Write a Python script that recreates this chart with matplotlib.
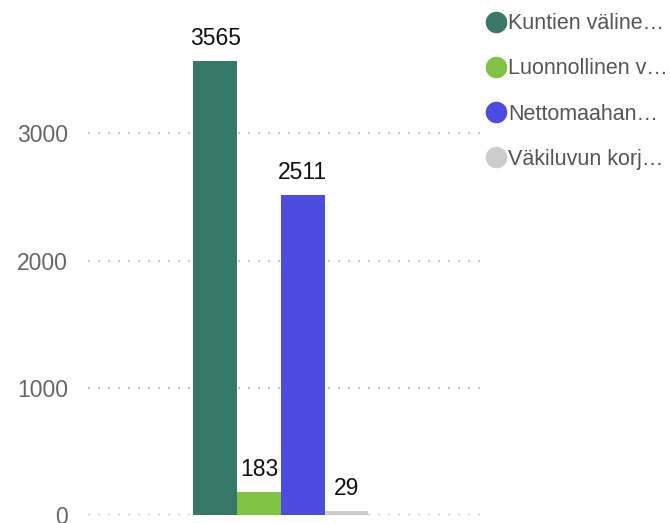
import matplotlib.pyplot as plt
from matplotlib.lines import Line2D

plt.rcParams['font.family'] = ['Liberation Sans', 'DejaVu Sans']

# series shown as one bar each
labels = ["Kuntien väline…", "Luonnollinen v…", "Nettomaahan…", "Väkiluvun korj…"]
values = [3565, 183, 2511, 29]
colors = ["#36796b", "#80c241", "#4c4ce0", "#cccccc"]
yticks = [0, 1000, 2000, 3000]

fig = plt.figure(figsize=(6.70, 5.23), dpi=100)
ax = fig.add_axes([88 / 670, 8 / 523, 392 / 670, 509 / 523])

x = list(range(len(values)))
ax.bar(x, values, width=1.0, color=colors, zorder=2)

for xi, v in zip(x, values):
    ax.annotate(str(v), (xi, v), xytext=(0, 8), textcoords="offset points",
                ha="center", va="bottom", fontsize=16.5, color="#111111")

ax.set_xlim(-2.91, 6.05)
ax.set_ylim(0, 4000)
ax.set_yticks(yticks)
ax.set_yticklabels([str(t) for t in yticks], fontsize=16.5, color="#666666")
ax.set_xticks([])
ax.tick_params(axis="y", length=0, pad=14.4)
for s in ax.spines.values():
    s.set_visible(False)
ax.grid(axis="y", color="#c8c8c8", linestyle=(0, (1, 3.8)), linewidth=1.5, zorder=0)

handles = [Line2D([], [], marker="o", linestyle="", markersize=14.5,
                  markerfacecolor=c, markeredgecolor=c) for c in colors]
leg = fig.legend(handles, labels, loc="upper left", bbox_to_anchor=(475 / 670, 0.991),
                 frameon=False, fontsize=15.5, handletextpad=0.0, handlelength=1.15,
                 labelspacing=1.12, borderaxespad=0)
for t in leg.get_texts():
    t.set_color("#555555")

fig.savefig("out.png", dpi=100)
